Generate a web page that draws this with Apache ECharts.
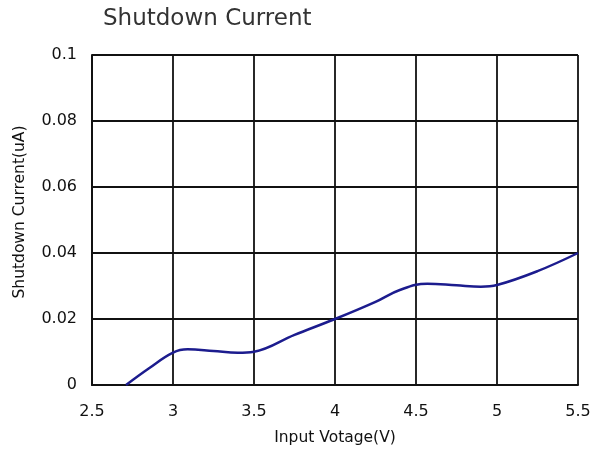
<!DOCTYPE html>
<html>
<head>
<meta charset="utf-8">
<script src="https://cdn.jsdelivr.net/npm/echarts@6/dist/echarts.min.js"></script>
<style>
  html, body { margin: 0; padding: 0; background: #fff; }
  #chart { width: 610px; height: 453px; }
</style>
</head>
<body>
<div id="chart"></div>
<script>
// input voltage (V) and shutdown current (uA)
const voltage = [2.71, 2.85, 3.0, 3.09, 3.25, 3.4, 3.5, 3.75, 4.0, 4.25, 4.4, 4.57, 4.75, 4.9, 5.0, 5.25, 5.5];
const current = [0, 0.005, 0.0098, 0.0108, 0.0103, 0.0098, 0.0101, 0.0152, 0.020, 0.0252, 0.0288, 0.0307, 0.0302, 0.0298, 0.0303, 0.0345, 0.040];

const chart = echarts.init(document.getElementById('chart'));
const font = 'DejaVu Sans, sans-serif';

const option = {
  animation: false,
  title: {
    text: 'Shutdown Current',
    left: 98,
    top: 3,
    textStyle: { fontFamily: font, fontSize: 23, fontWeight: 'normal', color: '#333' }
  },
  grid: { left: 92, right: 32, top: 55, bottom: 68 },
  xAxis: {
    type: 'value',
    min: 2.5,
    max: 5.5,
    interval: 0.5,
    name: 'Input Votage(V)',
    nameLocation: 'middle',
    nameGap: 45,
    nameTextStyle: { fontFamily: font, fontSize: 15.5, color: '#111' },
    axisLine: { show: true, lineStyle: { color: '#111', width: 2 } },
    axisTick: { show: false },
    axisLabel: { fontFamily: font, fontSize: 16, color: '#111', margin: 19 },
    splitLine: { show: true, lineStyle: { color: '#111', width: 1.8 } }
  },
  yAxis: {
    type: 'value',
    min: 0,
    max: 0.1,
    interval: 0.02,
    name: 'Shutdown Current(uA)',
    nameLocation: 'middle',
    nameGap: 64,
    nameTextStyle: { fontFamily: font, fontSize: 15.5, color: '#111', padding: [0, 0, 0, 16] },
    axisLine: { show: true, lineStyle: { color: '#111', width: 2 } },
    axisTick: { show: false },
    axisLabel: { fontFamily: font, fontSize: 16, color: '#111', margin: 15 },
    splitLine: { show: true, lineStyle: { color: '#111', width: 1.8 } }
  },
  series: [
    {
      type: 'line',
      smooth: 0.4,
      showSymbol: false,
      data: voltage.map((v, i) => [v, current[i]]),
      lineStyle: { color: '#1c1c8e', width: 2.5 }
    }
  ]
};
chart.setOption(option);
</script>
</body>
</html>
